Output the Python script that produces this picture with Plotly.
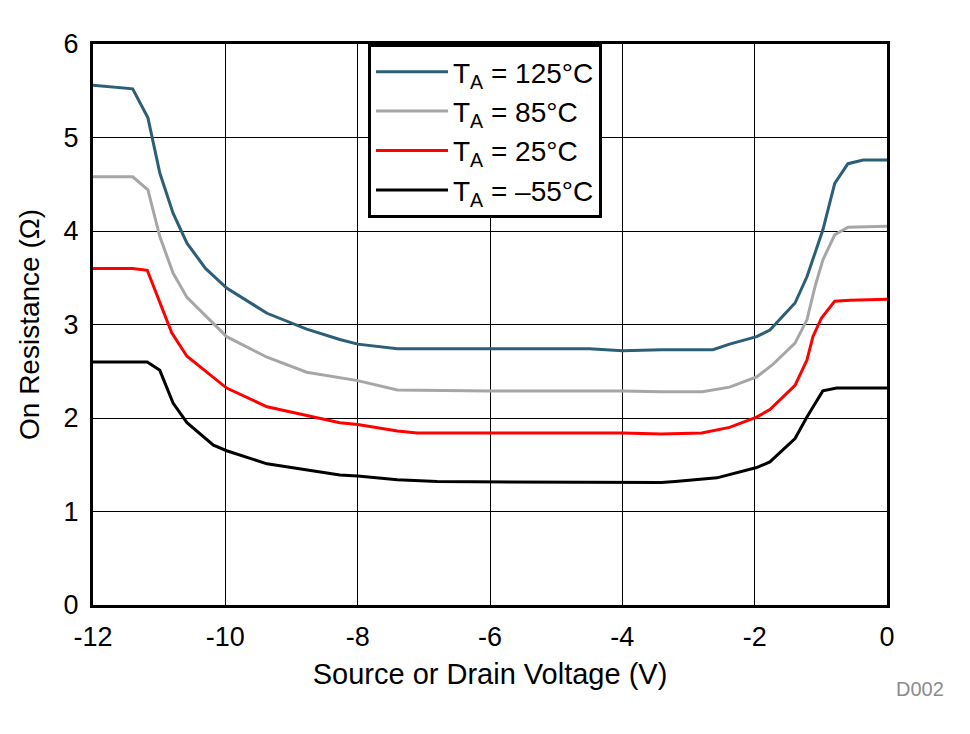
import plotly.graph_objects as go

# Data
v_125 = [-12, -11.4, -11.17, -10.99, -10.79, -10.58, -10.3, -9.98, -9.37, -8.77, -8.27, -8.0, -7.4, -6.0, -4.5, -4.0, -3.4, -2.63, -2.38, -1.97, -1.77, -1.39, -1.21, -0.97, -0.79, -0.59, -0.36, 0]
r_125 = [5.56, 5.52, 5.21, 4.62, 4.19, 3.87, 3.60, 3.39, 3.12, 2.95, 2.84, 2.79, 2.74, 2.74, 2.74, 2.72, 2.73, 2.73, 2.79, 2.87, 2.94, 3.23, 3.51, 4.01, 4.51, 4.72, 4.76, 4.76]

v_85 = [-12, -11.4, -11.17, -10.99, -10.79, -10.58, -9.98, -9.37, -8.77, -8.27, -8.0, -7.4, -6.0, -4.0, -3.41, -2.79, -2.38, -1.97, -1.73, -1.39, -1.21, -1.09, -0.97, -0.79, -0.59, 0]
r_85 = [4.58, 4.58, 4.44, 3.94, 3.55, 3.29, 2.87, 2.65, 2.49, 2.43, 2.40, 2.30, 2.29, 2.29, 2.28, 2.28, 2.33, 2.44, 2.57, 2.80, 3.05, 3.40, 3.69, 3.96, 4.04, 4.05]

v_25 = [-12, -11.4, -11.18, -10.99, -10.81, -10.58, -9.98, -9.37, -8.27, -8.0, -7.4, -7.1, -4.0, -3.41, -2.80, -2.38, -1.97, -1.77, -1.39, -1.21, -1.12, -0.99, -0.79, -0.56, 0]
r_25 = [3.60, 3.60, 3.58, 3.23, 2.91, 2.66, 2.32, 2.12, 1.95, 1.93, 1.86, 1.84, 1.84, 1.83, 1.84, 1.90, 2.01, 2.09, 2.35, 2.62, 2.87, 3.07, 3.25, 3.26, 3.27]

v_m55 = [-12, -11.18, -10.99, -10.79, -10.58, -10.18, -9.98, -9.37, -8.27, -8.0, -7.4, -6.8, -3.41, -3.2, -2.57, -1.97, -1.77, -1.39, -1.21, -0.97, -0.76, 0]
r_m55 = [2.60, 2.60, 2.51, 2.16, 1.95, 1.71, 1.65, 1.51, 1.39, 1.38, 1.34, 1.32, 1.31, 1.32, 1.36, 1.47, 1.53, 1.78, 2.01, 2.29, 2.32, 2.32]

series_names = ["T<sub>A</sub> = 125°C", "T<sub>A</sub> = 85°C", "T<sub>A</sub> = 25°C", "T<sub>A</sub> = –55°C"]
series_colors = ["#2C5F77", "#A6A6A6", "#FF0000", "#000000"]

x_tickvals = [-12, -10, -8, -6, -4, -2, 0]
x_ticktext = ["-12", "-10", "-8", "-6", "-4", "-2", "0"]
y_tickvals = [0, 1, 2, 3, 4, 5, 6]
y_ticktext = ["0", "1", "2", "3", "4", "5", "6"]

fig = go.Figure()
for xs, ys, name, col in zip([v_125, v_85, v_25, v_m55], [r_125, r_85, r_25, r_m55], series_names, series_colors):
    fig.add_trace(go.Scatter(x=xs, y=ys, mode="lines", name=name,
                             line=dict(color=col, width=3)))

font_family = "Liberation Sans, Arial, sans-serif"
fig.update_layout(
    width=962, height=726,
    margin=dict(l=85, r=83, t=36, b=129),
    paper_bgcolor="white", plot_bgcolor="white",
    font=dict(family=font_family, color="black", size=27),
    showlegend=True,
    legend=dict(x=(368 - 93) / 794, y=1.0, xanchor="left", yanchor="top",
                bgcolor="white", bordercolor="black", borderwidth=3,
                font=dict(size=28, family=font_family, color="black"),
                tracegroupgap=0, itemwidth=72),
    xaxis=dict(range=[-12, 0], tickvals=x_tickvals, ticktext=x_ticktext,
               showgrid=True, gridcolor="black", gridwidth=1,
               showline=True, linecolor="black", linewidth=3, mirror=True,
               zeroline=False, ticks="", ticklabelstandoff=6,
               title=dict(text="Source or Drain Voltage (V)", font=dict(size=29), standoff=13),
               tickfont=dict(size=27)),
    yaxis=dict(range=[0, 6], tickvals=y_tickvals, ticktext=y_ticktext,
               showgrid=True, gridcolor="black", gridwidth=1,
               showline=True, linecolor="black", linewidth=3, mirror=True,
               zeroline=False, ticks="", ticklabelstandoff=6,
               title=dict(text="On Resistance (Ω)", font=dict(size=28), standoff=16),
               tickfont=dict(size=27)),
    annotations=[dict(text="D002", x=(920 - 93) / 794, y=(605 - 689) / 561,
                      xref="paper", yref="paper", xanchor="center", yanchor="middle",
                      showarrow=False, font=dict(size=20, color="#8C8C8C"))],
)

fig.write_html("out.html")
